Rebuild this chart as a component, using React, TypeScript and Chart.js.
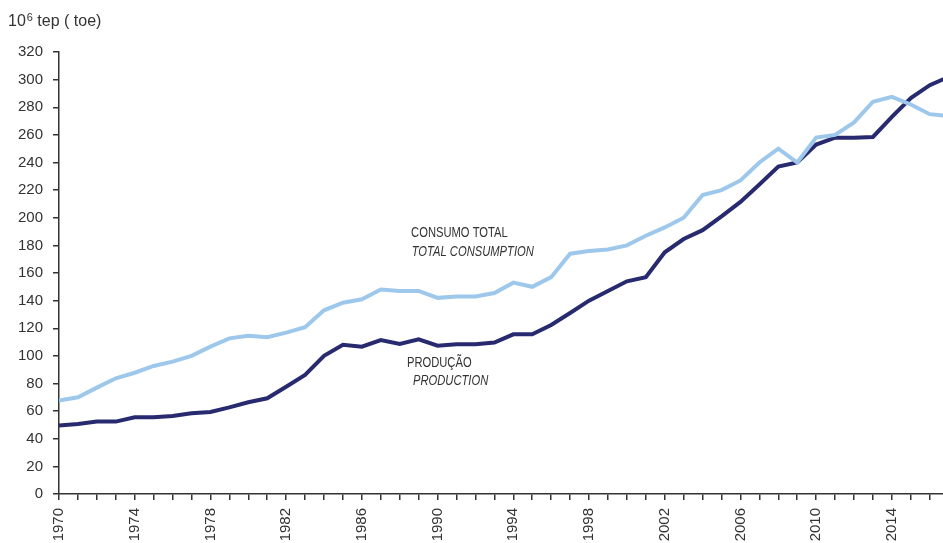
import React, { useEffect, useRef } from 'react';
import { Chart, registerables } from 'chart.js';

Chart.register(...registerables);

const years = [
  1970, 1971, 1972, 1973, 1974, 1975, 1976, 1977, 1978, 1979,
  1980, 1981, 1982, 1983, 1984, 1985, 1986, 1987, 1988, 1989,
  1990, 1991, 1992, 1993, 1994, 1995, 1996, 1997, 1998, 1999,
  2000, 2001, 2002, 2003, 2004, 2005, 2006, 2007, 2008, 2009,
  2010, 2011, 2012, 2013, 2014, 2015, 2016, 2017,
];

const consumption = [
  67.6, 70, 77, 83.8, 87.8, 92.7, 95.8, 100, 106.7, 112.7,
  114.6, 113.5, 116.8, 120.7, 133, 138.5, 141, 148, 147, 147,
  142, 143, 143, 145.5, 153, 150, 157, 174, 176, 177,
  180, 187, 193, 200, 216.5, 220, 227, 240, 250, 240,
  258, 260, 269, 284, 287.5, 282, 275, 273.5,
];

const production = [
  49.5, 50.7, 52.4, 52.4, 55.5, 55.5, 56.5, 58.4, 59.4, 62.7,
  66.4, 69.3, 77.7, 86.2, 100, 108, 106.7, 111.5, 108.6, 112,
  107.4, 108.4, 108.4, 109.6, 115.6, 115.6, 122.4, 131, 140, 147,
  154, 157, 175, 184.6, 191, 201, 211.5, 224, 237, 240,
  253, 258, 258, 258.5, 273, 286.7, 296, 302,
];

const tickYears = years.filter((y) => y <= 2016);
const labelEvery = 4;

const seriesNames = ['Consumo total', 'Produção'];

const annotations = [
  { text: 'CONSUMO TOTAL', italic: false, year: 1988.6, value: 186.3 },
  { text: 'TOTAL CONSUMPTION', italic: true, year: 1988.63, value: 172.1 },
  { text: 'PRODUÇÃO', italic: false, year: 1988.38, value: 91.9 },
  { text: 'PRODUCTION', italic: true, year: 1988.7, value: 78.6 },
];

const TEXT = '#333333';
const AXIS = '#333333';
const LIGHT = 'rgb(157, 200, 235)';
const DARK = 'rgb(40, 42, 112)';
const FONT = '"Liberation Sans", Arial, sans-serif';
const CONDENSE = 0.8;

const textPlugin = {
  id: 'textPlugin',
  afterDraw(chart: any) {
    const ctx = chart.ctx as CanvasRenderingContext2D;
    const xs = chart.scales.x;
    const ys = chart.scales.y;
    ctx.save();
    ctx.fillStyle = TEXT;
    ctx.textAlign = 'left';
    ctx.textBaseline = 'alphabetic';
    // unit title
    ctx.font = `16px ${FONT}`;
    ctx.fillText('10', 8, 26);
    const w10 = ctx.measureText('10').width;
    ctx.font = `11px ${FONT}`;
    ctx.fillText('6', 8 + w10 + 1, 21);
    const w6 = ctx.measureText('6').width;
    ctx.font = `16px ${FONT}`;
    ctx.fillText(' tep ( toe)', 8 + w10 + 1 + w6, 26);
    // series annotations (condensed lettering)
    annotations.forEach((a) => {
      ctx.save();
      ctx.font = `${a.italic ? 'italic ' : ''}14px ${FONT}`;
      ctx.translate(xs.getPixelForValue(a.year), ys.getPixelForValue(a.value));
      ctx.scale(CONDENSE, 1);
      ctx.fillText(a.text, 0, 0);
      ctx.restore();
    });
    ctx.restore();
  },
};

export default function App() {
  const ref = useRef<HTMLCanvasElement>(null);

  useEffect(() => {
    if (!ref.current) return;
    const chart = new Chart(ref.current, {
      type: 'line',
      data: {
        datasets: [
          {
            label: seriesNames[0],
            data: years.map((y, i) => ({ x: y, y: consumption[i] })),
            borderColor: LIGHT,
            backgroundColor: LIGHT,
            borderWidth: 4,
            pointRadius: 0,
            tension: 0,
          },
          {
            label: seriesNames[1],
            data: years.map((y, i) => ({ x: y, y: production[i] })),
            borderColor: DARK,
            backgroundColor: DARK,
            borderWidth: 4,
            pointRadius: 0,
            tension: 0,
          },
        ],
      },
      options: {
        responsive: false,
        animation: false,
        devicePixelRatio: 1,
        layout: { padding: { top: 52, right: 0, left: 0, bottom: 0 } },
        plugins: {
          legend: { display: false },
          tooltip: { enabled: false },
          title: { display: false },
        },
        scales: {
          x: {
            type: 'linear',
            min: 1970,
            max: 2016.7,
            afterBuildTicks: (axis: any) => {
              axis.ticks = tickYears.map((v) => ({ value: v }));
            },
            afterFit: (axis: any) => {
              axis.height = 49;
              axis.paddingLeft = 0;
              axis.paddingRight = 0;
            },
            ticks: {
              autoSkip: false,
              maxRotation: 90,
              minRotation: 90,
              padding: 8,
              color: TEXT,
              font: { size: 15, family: FONT },
              callback: (v: any) => ((Number(v) - years[0]) % labelEvery === 0 ? String(v) : ''),
            },
            grid: {
              drawOnChartArea: false,
              drawTicks: true,
              tickLength: 6,
              color: AXIS,
              lineWidth: 1.5,
            },
            border: { display: true, color: AXIS, width: 1.5 },
          },
          y: {
            min: 0,
            max: 320,
            afterFit: (axis: any) => {
              axis.width = 59;
            },
            ticks: {
              stepSize: 20,
              padding: 10,
              color: TEXT,
              font: { size: 15, family: FONT },
            },
            grid: {
              drawOnChartArea: false,
              drawTicks: true,
              tickLength: 6,
              color: AXIS,
              lineWidth: 1.5,
            },
            border: { display: true, color: AXIS, width: 1.5 },
          },
        },
      },
      plugins: [textPlugin],
    } as any);
    return () => chart.destroy();
  }, []);

  return (
    <div style={{ position: 'absolute', left: 0, top: 0, width: 943, height: 543, background: '#fff' }}>
      <canvas ref={ref} width={943} height={543} style={{ display: 'block', width: 943, height: 543 }} />
    </div>
  );
}
